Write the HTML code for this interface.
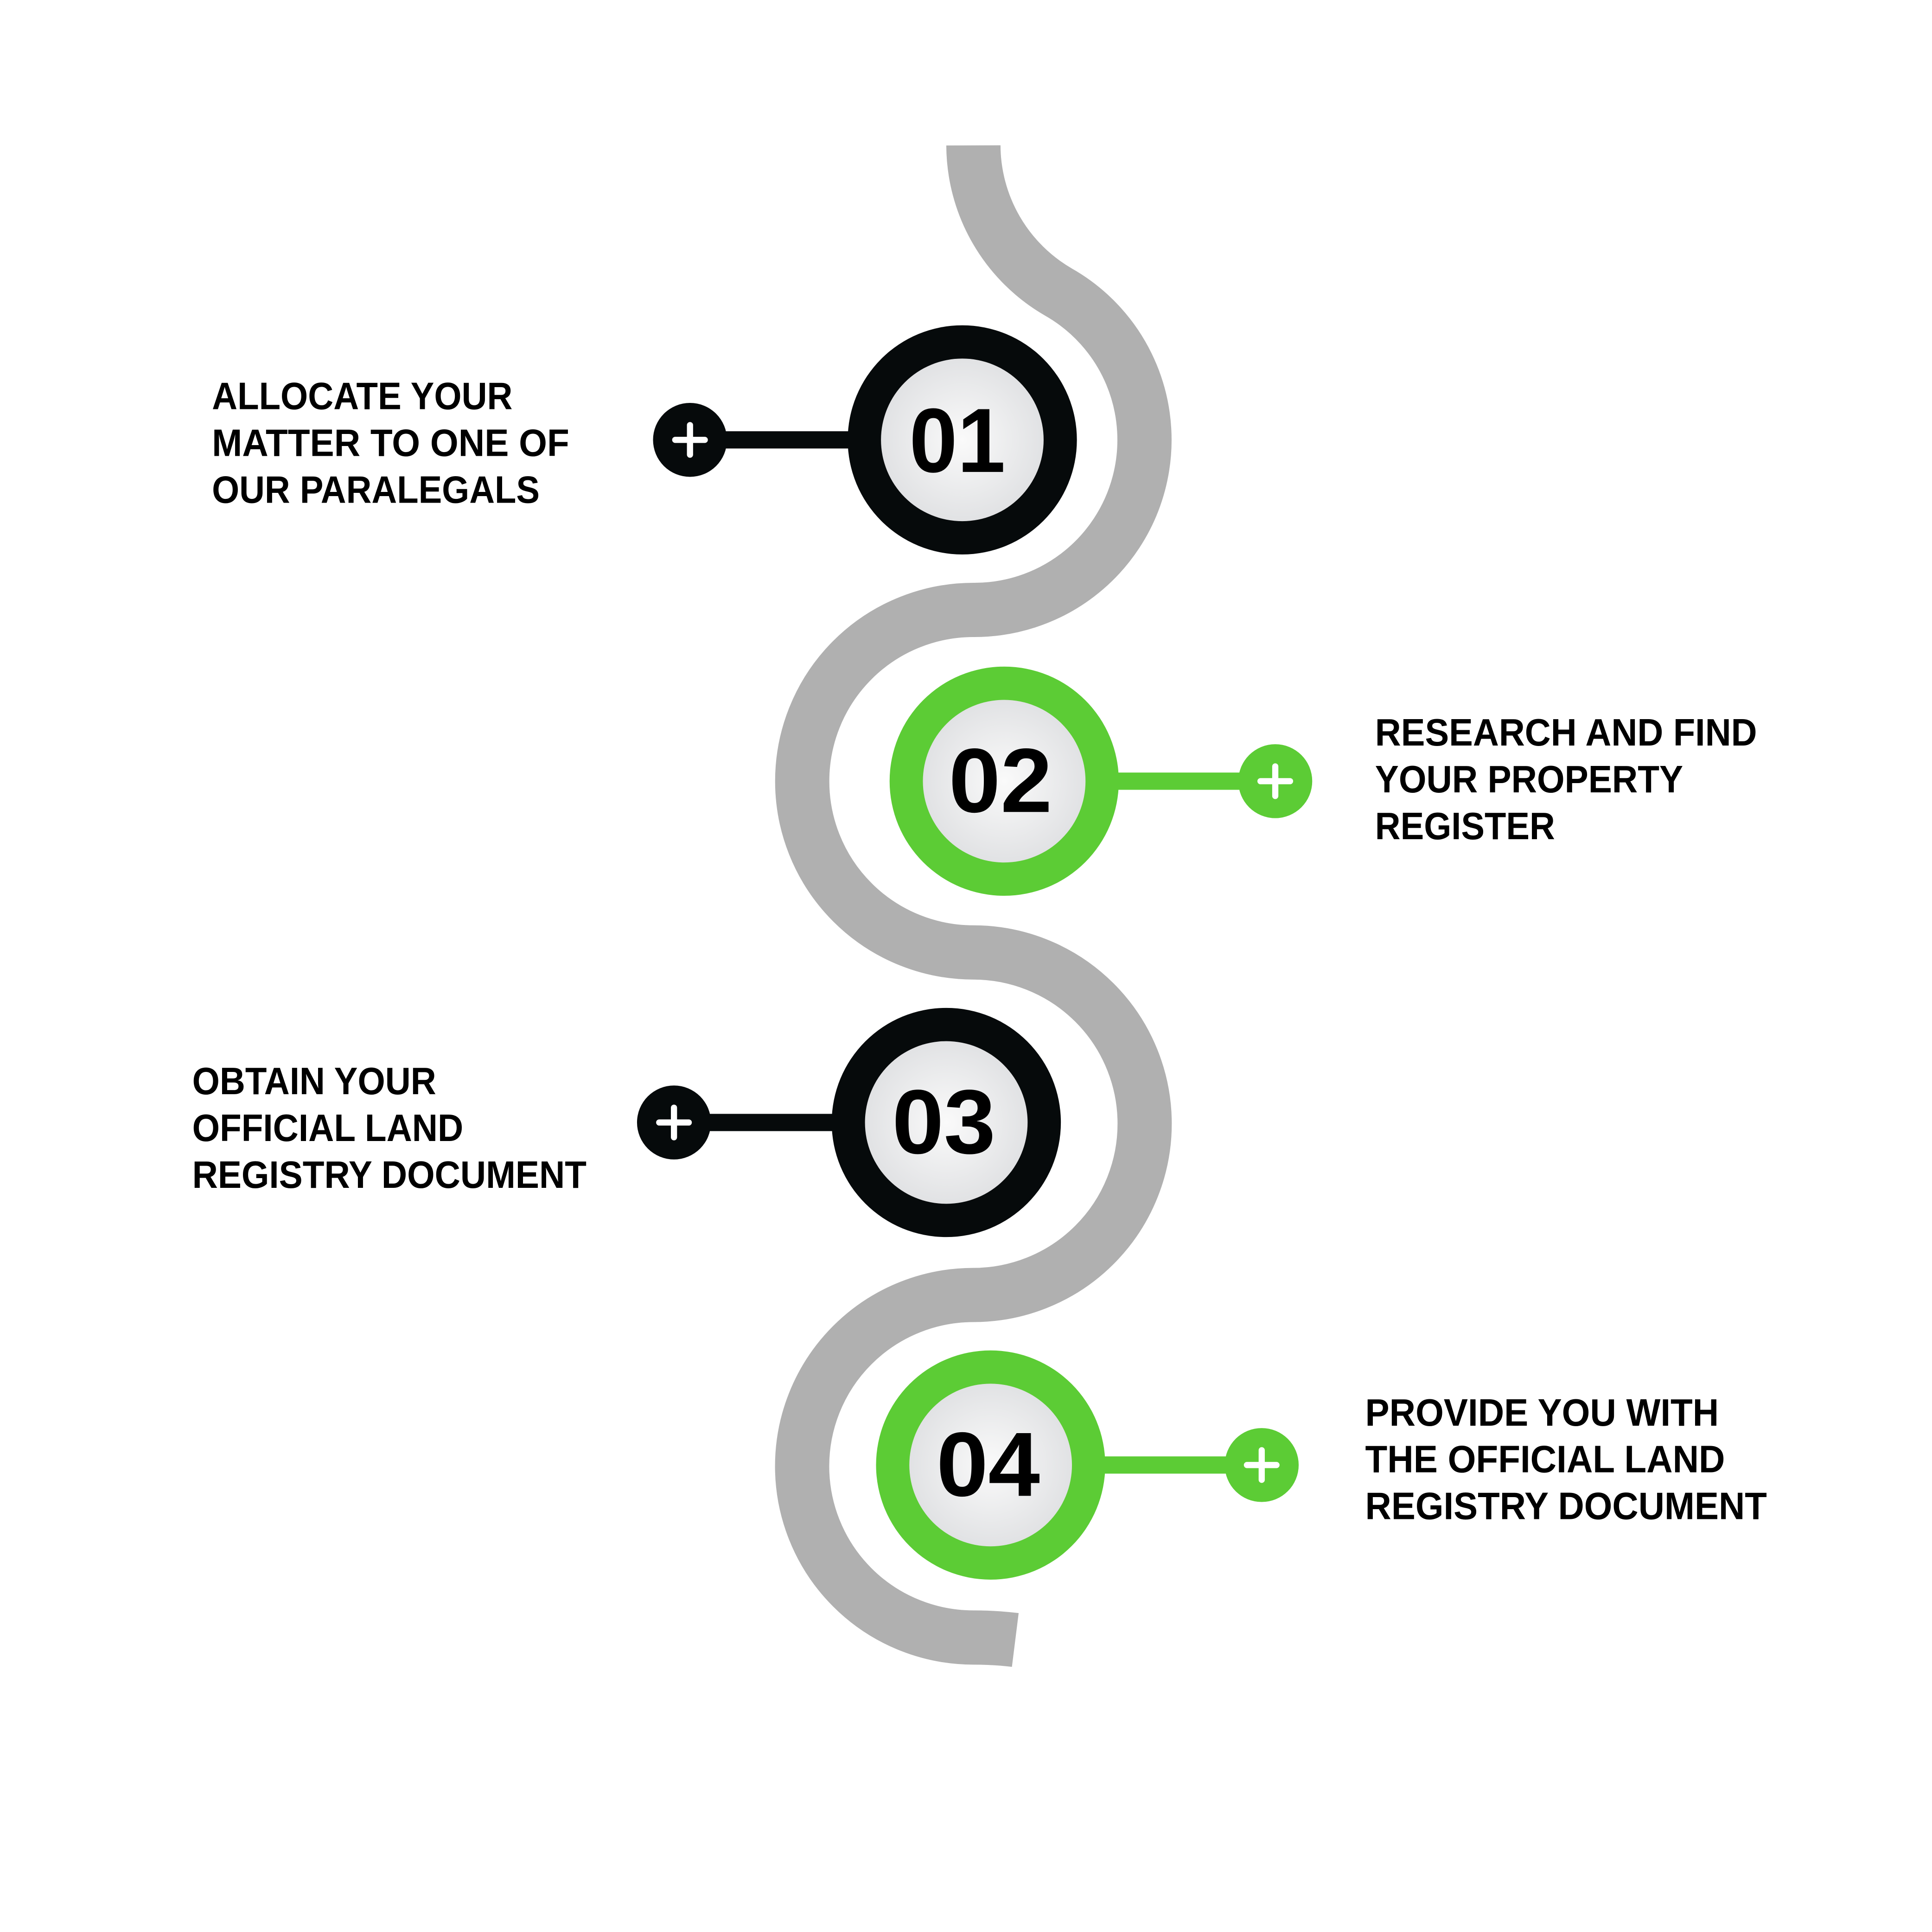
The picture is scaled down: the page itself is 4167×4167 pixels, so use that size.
<!DOCTYPE html>
<html><head><meta charset="utf-8"><style>html,body{margin:0;padding:0;background:#fff}svg{display:block}</style></head>
<body>
<svg width="4167" height="4167" viewBox="0 0 1568 1568" xmlns="http://www.w3.org/2000/svg">
<defs>
<radialGradient id="g" cx="0.5" cy="0.5" r="0.5"><stop offset="0" stop-color="#fafafa"/><stop offset="1" stop-color="#e1e2e4"/></radialGradient>
</defs>
<rect width="1568" height="1568" fill="#fff"/>
<path d="M790 118 A138 138 0 0 0 859 237 A138 138 0 0 1 790 495 A139 139 0 0 0 790 773 A139 139 0 0 1 790 1051 A139 139 0 0 0 790 1329 Q808 1329 824 1331" fill="none" stroke="#b0b0b0" stroke-width="44"/>
<g font-family="'Liberation Sans',sans-serif" font-weight="bold">
<!-- 01 -->
<rect x="560" y="350" width="130" height="14" fill="#060a0b"/>
<circle cx="560" cy="357" r="30" fill="#060a0b"/>
<path d="M548 357h24M560 345v24" stroke="#fff" stroke-width="5" stroke-linecap="round"/>
<circle cx="781" cy="357" r="93" fill="#060a0b"/>
<circle cx="781" cy="357" r="66" fill="url(#g)"/>
<text x="777" y="383" font-size="74" text-anchor="middle" fill="#000" textLength="78" lengthAdjust="spacingAndGlyphs">01</text>
<!-- 02 -->
<rect x="900" y="627" width="135" height="14" fill="#5ccc35"/>
<circle cx="1035" cy="634" r="30" fill="#5ccc35"/>
<path d="M1023 634h24M1035 622v24" stroke="#fff" stroke-width="5" stroke-linecap="round"/>
<circle cx="815" cy="634" r="93" fill="#5ccc35"/>
<circle cx="815" cy="634" r="66" fill="url(#g)"/>
<text x="812" y="659" font-size="74" text-anchor="middle" fill="#000" textLength="84" lengthAdjust="spacingAndGlyphs">02</text>
<!-- 03 -->
<rect x="547" y="904" width="135" height="14" fill="#060a0b"/>
<circle cx="547" cy="911" r="30" fill="#060a0b"/>
<path d="M535 911h24M547 899v24" stroke="#fff" stroke-width="5" stroke-linecap="round"/>
<circle cx="768" cy="911" r="93" fill="#060a0b"/>
<circle cx="768" cy="911" r="66" fill="url(#g)"/>
<text x="766" y="936" font-size="74" text-anchor="middle" fill="#000" textLength="84" lengthAdjust="spacingAndGlyphs">03</text>
<!-- 04 -->
<rect x="890" y="1182" width="134" height="14" fill="#5ccc35"/>
<circle cx="1024" cy="1189" r="30" fill="#5ccc35"/>
<path d="M1012 1189h24M1024 1177v24" stroke="#fff" stroke-width="5" stroke-linecap="round"/>
<circle cx="804" cy="1189" r="93" fill="#5ccc35"/>
<circle cx="804" cy="1189" r="66" fill="url(#g)"/>
<text x="802" y="1214" font-size="74" text-anchor="middle" fill="#000" textLength="84" lengthAdjust="spacingAndGlyphs">04</text>
<!-- labels -->
<g font-size="31" fill="#000">
<text x="172" y="332" textLength="244" lengthAdjust="spacingAndGlyphs">ALLOCATE YOUR</text>
<text x="172" y="370" textLength="290" lengthAdjust="spacingAndGlyphs">MATTER TO ONE OF</text>
<text x="172" y="408" textLength="266" lengthAdjust="spacingAndGlyphs">OUR PARALEGALS</text>
<text x="1116" y="605" textLength="310" lengthAdjust="spacingAndGlyphs">RESEARCH AND FIND</text>
<text x="1116" y="643" textLength="250" lengthAdjust="spacingAndGlyphs">YOUR PROPERTY</text>
<text x="1116" y="681" textLength="146" lengthAdjust="spacingAndGlyphs">REGISTER</text>
<text x="156" y="888" textLength="198" lengthAdjust="spacingAndGlyphs">OBTAIN YOUR</text>
<text x="156" y="926" textLength="220" lengthAdjust="spacingAndGlyphs">OFFICIAL LAND</text>
<text x="156" y="964" textLength="320" lengthAdjust="spacingAndGlyphs">REGISTRY DOCUMENT</text>
<text x="1108" y="1157" textLength="287" lengthAdjust="spacingAndGlyphs">PROVIDE YOU WITH</text>
<text x="1108" y="1195" textLength="292" lengthAdjust="spacingAndGlyphs">THE OFFICIAL LAND</text>
<text x="1108" y="1233" textLength="326" lengthAdjust="spacingAndGlyphs">REGISTRY DOCUMENT</text>
</g>
</g>
</svg>
</body></html>
